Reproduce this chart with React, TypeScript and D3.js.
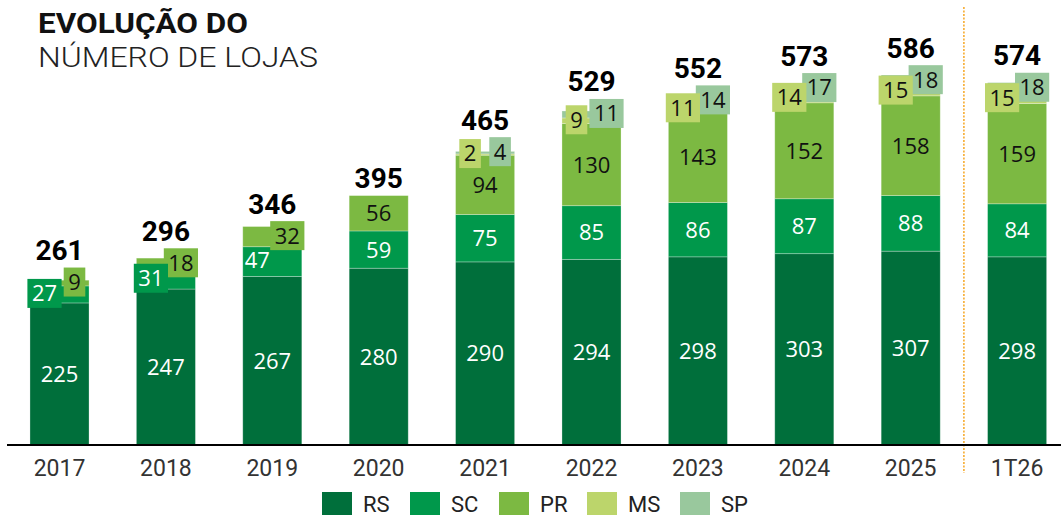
import React from "react";
import * as d3 from "d3";

const categories = ["2017", "2018", "2019", "2020", "2021", "2022", "2023", "2024", "2025", "1T26"];
const seriesNames = ["RS", "SC", "PR", "MS", "SP"];
const rs = [225, 247, 267, 280, 290, 294, 298, 303, 307, 298];
const sc = [27, 31, 47, 59, 75, 85, 86, 87, 88, 84];
const pr = [9, 18, 32, 56, 94, 130, 143, 152, 158, 159];
const ms = [0, 0, 0, 0, 2, 9, 11, 14, 15, 15];
const sp = [0, 0, 0, 0, 4, 11, 14, 17, 18, 18];
// which series labels are shown as side-by-side callouts (left, right) per category
const callouts: string[][] = [
  ["SC", "PR"], ["SC", "PR"], ["SC", "PR"], [],
  ["MS", "SP"], ["MS", "SP"], ["MS", "SP"], ["MS", "SP"], ["MS", "SP"], ["MS", "SP"],
];

const colors: Record<string, string> = {
  RS: "#006f3b",
  SC: "#00984b",
  PR: "#7cb942",
  MS: "#bcd56b",
  SP: "#99c89d",
};
const textColors: Record<string, string> = {
  RS: "#ffffff",
  SC: "#ffffff",
  PR: "#111111",
  MS: "#111111",
  SP: "#111111",
};

const W = 1061;
const H = 517;
const baseY = 445;
const labelFont = "'Open Sans', 'Noto Sans', sans-serif";
const roboto = "Roboto, sans-serif";

export default function App() {
  const x = d3
    .scaleBand<string>()
    .domain(categories)
    .range([6.3, 1070.3])
    .paddingInner(0.445)
    .paddingOuter(0.2225);
  const y = d3.scaleLinear().domain([0, 586]).range([baseY, 75]);

  const rows = categories.map((c, i) => ({
    cat: c,
    RS: rs[i],
    SC: sc[i],
    PR: pr[i],
    MS: ms[i],
    SP: sp[i],
  }));
  const stack = d3.stack<any>().keys(seriesNames)(rows);

  const bw = x.bandwidth();
  const boxH = 29;
  const pad = 5.5;
  const digitW = 12.6;

  const bars: React.ReactNode[] = [];
  const inner: React.ReactNode[] = [];
  const boxesBack: React.ReactNode[] = [];
  const boxesFront: React.ReactNode[] = [];
  const totals: React.ReactNode[] = [];

  categories.forEach((cat, i) => {
    const x0 = x(cat)!;
    const cx = x0 + bw / 2;
    let topMost = y(0);
    stack.forEach((layer) => {
      const key = layer.key;
      const [v0, v1] = layer[i];
      const val = v1 - v0;
      if (val <= 0) return;
      const yTop = y(v1);
      const yBot = y(v0);
      topMost = Math.min(topMost, yTop);
      bars.push(
        <rect
          key={`b-${cat}-${key}`}
          x={x0}
          y={yTop}
          width={bw}
          height={yBot - yTop}
          fill={colors[key]}
          stroke="#ffffff"
          strokeOpacity={0.35}
          strokeWidth={0.8}
        />
      );
      const cy = (yTop + yBot) / 2;
      const ci = callouts[i].indexOf(key);
      if (ci === -1) {
        inner.push(
          <text
            key={`t-${cat}-${key}`}
            x={cx}
            y={cy}
            dy="0.36em"
            textAnchor="middle"
            fontFamily={labelFont}
            fontSize={22}
            fill={textColors[key]}
          >
            {val}
          </text>
        );
      } else {
        const lx = cx + (ci === 0 ? -15 : 15);
        const tw = String(val).length * digitW - 2;
        const bwBox = tw + pad * 2;
        const segH = yBot - yTop;
        const by = cy - 1 - boxH / 2;
        const drawBox = segH < boxH;
        if (drawBox) topMost = Math.min(topMost, by);
        const g = (
          <g key={`c-${cat}-${key}`}>
            {drawBox && (
              <rect x={lx - bwBox / 2} y={by} width={bwBox} height={boxH} fill={colors[key]} />
            )}
            <text
              x={lx}
              y={cy - 1}
              dy="0.36em"
              textAnchor="middle"
              fontFamily={labelFont}
              fontSize={22}
              fill={textColors[key]}
            >
              {val}
            </text>
          </g>
        );
        if (ci === 0) boxesFront.push(g);
        else boxesBack.push(g);
      }
    });
    const total = rs[i] + sc[i] + pr[i] + ms[i] + sp[i];
    totals.push(
      <text
        key={`tot-${cat}`}
        x={cx}
        y={topMost - 7.5}
        textAnchor="middle"
        fontFamily={roboto}
        fontWeight={700}
        fontSize={28}
        fill="#000"
      >
        {total}
      </text>
    );
  });

  const legendX = [322, 410, 499, 587, 680];

  const sepX = (x("2025")! + bw + x("1T26")!) / 2;

  return (
    <svg
      width={W}
      height={H}
      style={{ position: "absolute", left: 0, top: 0, background: "#fff" }}
    >
      <text
        x={38}
        y={32.7}
        fontFamily={roboto}
        fontWeight={700}
        fontSize={27.5}
        fill="#111"
        textLength={210}
        lengthAdjust="spacingAndGlyphs"
      >
        EVOLUÇÃO DO
      </text>
      <text
        x={38}
        y={66.7}
        fontFamily={roboto}
        fontWeight={300}
        fontSize={27.5}
        fill="#222"
        textLength={280}
        lengthAdjust="spacingAndGlyphs"
      >
        NÚMERO DE LOJAS
      </text>

      <line
        x1={sepX}
        x2={sepX}
        y1={7}
        y2={473}
        stroke="#f6a623"
        strokeWidth={1.5}
        strokeDasharray="2,1.5"
      />

      {bars}
      {inner}
      {boxesBack}
      {boxesFront}
      {totals}

      <line x1={7} x2={W} y1={baseY} y2={baseY} stroke="#000" strokeWidth={2} />

      {categories.map((c) => (
        <text
          key={`x-${c}`}
          x={x(c)! + bw / 2}
          y={476}
          textAnchor="middle"
          fontFamily={roboto}
          fontSize={23}
          fill="#333"
        >
          {c}
        </text>
      ))}

      {seriesNames.map((s, i) => (
        <g key={`l-${s}`}>
          <rect x={legendX[i]} y={492} width={30} height={23} fill={colors[s]} />
          <text
            x={legendX[i] + 41}
            y={511.5}
            fontFamily={roboto}
            fontSize={22}
            fill="#222"
          >
            {s}
          </text>
        </g>
      ))}
    </svg>
  );
}
